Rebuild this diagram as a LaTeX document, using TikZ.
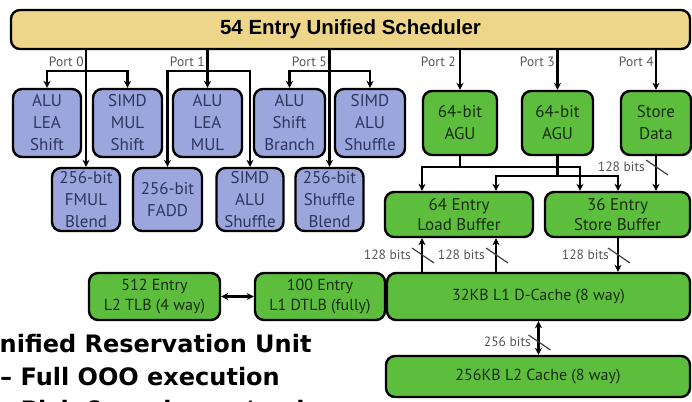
\documentclass[tikz,border=0pt]{standalone}
\usepackage{fontspec}
\setmainfont{PT Sans}
\newfontfamily\titlefont{Liberation Sans}
\newfontfamily\notefont{DejaVu Sans}
\usetikzlibrary{arrows.meta}
\definecolor{schedfill}{HTML}{EDD68A}
\definecolor{bluefill}{HTML}{9BA6DD}
\definecolor{bluetext}{HTML}{2E3560}
\definecolor{greenfill}{HTML}{5DBD3C}
\definecolor{greentext}{HTML}{182C0E}
\definecolor{labelgray}{HTML}{555555}
\tikzset{
  box/.style={draw=black, line width=2.4pt, rounded corners=9pt, inner sep=0pt,
    align=center, font=\fontsize{17}{22}\selectfont},
  unit/.style={box, fill=bluefill, text=bluetext},
  mem/.style={box, fill=greenfill, text=greentext},
  arr/.style={line width=2.4pt, -{Stealth[length=7pt,width=7pt]}},
  biarr/.style={line width=2.4pt, {Stealth[length=7pt,width=7pt]}-{Stealth[length=7pt,width=7pt]}},
  portlabel/.style={font=\fontsize{13.5}{14}\selectfont, text=labelgray, inner sep=0pt, anchor=east},
  bitlabel/.style={font=\fontsize{13.5}{14}\selectfont, text=labelgray, inner sep=0pt, anchor=east},
  slash/.pic={\draw[line width=1.2pt, black!75] (-10,-7) -- (12,8);},
  note/.style={font=\notefont\bfseries\fontsize{24}{28}\selectfont, inner sep=0pt, anchor=base west}
}
\begin{document}
\begin{tikzpicture}[x=1pt,y=-1pt]
\useasboundingbox (0,0) rectangle (692,401);
\clip (0,0) rectangle (692,401);

% scheduler
\node[box, fill=schedfill, minimum width=679pt, minimum height=39pt,
  font=\titlefont\bfseries\fontsize{20.5}{22}\selectfont] (sched) at (350.5,29.5) {54 Entry Unified Scheduler};

% execution units, upper row
\node[unit, minimum width=68pt, minimum height=68pt] (alu0) at (47,123) {ALU\\LEA\\Shift};
\node[unit, minimum width=69pt, minimum height=68pt] (smul) at (127.5,123) {SIMD\\MUL\\Shift};
\node[unit, minimum width=69pt, minimum height=68pt] (alu1) at (207.5,123) {ALU\\LEA\\MUL};
\node[unit, minimum width=71pt, minimum height=68pt] (alu5) at (289.5,123) {ALU\\Shift\\Branch};
\node[unit, minimum width=70pt, minimum height=68pt] (salu5) at (370,123) {SIMD\\ALU\\Shuffle};
% execution units, lower row
\node[unit, minimum width=68pt, minimum height=63pt] (fmul) at (86,199.5) {256-bit\\FMUL\\Blend};
\node[unit, minimum width=69pt, minimum height=63pt] (fadd) at (167.5,199.5) {256-bit\\FADD};
\node[unit, minimum width=67pt, minimum height=63pt] (salu1) at (250,199.5) {SIMD\\ALU\\Shuffle};
\node[unit, minimum width=68pt, minimum height=63pt] (shuf) at (329.5,199.5) {256-bit\\Shuffle\\Blend};

% memory units
\node[mem, minimum width=74pt, minimum height=64pt] (agu2) at (460,123) {64-bit\\AGU};
\node[mem, minimum width=71pt, minimum height=64pt] (agu3) at (557.5,123) {64-bit\\AGU};
\node[mem, minimum width=70pt, minimum height=64pt] (std) at (656,123) {Store\\Data};
\node[mem, minimum width=148pt, minimum height=45pt, font=\fontsize{17}{20.5}\selectfont] (lb) at (459,214.5) {64 Entry\\Load Buffer};
\node[mem, minimum width=145pt, minimum height=45pt, font=\fontsize{17}{20.5}\selectfont] (sb) at (617.5,214.5) {36 Entry\\Store Buffer};
\node[mem, minimum width=131pt, minimum height=47pt, font=\fontsize{16}{20}\selectfont] (tlb2) at (154.5,296.5) {512 Entry\\L2 TLB (4 way)};
\node[mem, minimum width=130pt, minimum height=47pt, font=\fontsize{16}{20}\selectfont] (dtlb) at (320,296.5) {100 Entry\\L1 DTLB (fully)};
\node[mem, minimum width=303pt, minimum height=47pt, font=\fontsize{16}{20}\selectfont] (dc) at (538.5,296.5) {32KB L1 D-Cache (8 way)};
\node[mem, minimum width=304pt, minimum height=41pt, font=\fontsize{16}{20}\selectfont] (l2) at (538,376.5) {256KB L2 Cache (8 way)};

% helper positions for branch levels and buffer ports
\coordinate (br) at (0,71);
\coordinate (h1) at (0,167);
\coordinate (h2) at (0,176);
\coordinate (xl1) at (422,0);
\coordinate (xl2) at (496,0);
\coordinate (xs1) at (580,0);
\coordinate (xs2) at (618,0);
\coordinate (bits) at (0,255);

% port 0
\draw[arr] (sched.south -| fmul) -- (fmul.north);
\draw[arr] (fmul |- br) -| (alu0.north);
\draw[arr] (fmul |- br) -| (smul.north);
\node[portlabel] (p0) at (84,62) {Port 0};
% port 1
\draw[arr] (sched.south -| alu1) -- (alu1.north);
\draw[arr] (alu1 |- br) -| (fadd.north);
\draw[arr] (alu1 |- br) -| (salu1.north);
\node[portlabel] (p1) at (205,62) {Port 1};
% port 5
\draw[arr] (sched.south -| shuf) -- (shuf.north);
\draw[arr] (shuf |- br) -| (alu5.north);
\draw[arr] (shuf |- br) -| (salu5.north);
\node[portlabel] (p5) at (327,62) {Port 5};
% ports 2, 3, 4
\draw[arr] (sched.south -| agu2) -- (agu2.north);
\node[portlabel] (p2) at (456,62) {Port 2};
\draw[arr] (sched.south -| agu3) -- (agu3.north);
\node[portlabel] (p3) at (555,62) {Port 3};
\draw[arr] (sched.south -| std) -- (std.north);
\node[portlabel] (p4) at (654,62) {Port 4};

% address generation to the buffers
\draw[arr] (agu2.south) -- (agu2 |- h1) -| (lb.north -| xl1);
\draw[arr] (agu2 |- h1) -| (sb.north -| xs1);
\draw[arr] (agu3.south) -- (agu3 |- h2) -| (lb.north -| xl2);
\draw[arr] (agu3 |- h2) -| (sb.north -| xs2);
\draw[arr] (std.south) -- (sb.north -| std);
\path (std |- h1) pic{slash};
\node[bitlabel] (b0) at (645,167) {128 bits};

% buffers and L1 data cache
\draw[arr] (dc.north -| xl1) -- (lb.south -| xl1);
\draw[arr] (dc.north -| xl2) -- (lb.south -| xl2);
\draw[arr] (sb.south -| xs2) -- (dc.north -| xs2);
\path (xl1 |- bits) pic{slash};
\path (xl2 |- bits) pic{slash};
\path (xs2 |- bits) pic{slash};
\node[bitlabel] (b1) at (411,255) {128 bits};
\node[bitlabel] (b2) at (485,255) {128 bits};
\node[bitlabel] (b3) at (609,255) {128 bits};

% L1 to L2 and the TLBs
\draw[biarr] (dc.south) -- (l2.north -| dc);
\path (dc |- 0,342) pic{slash};
\node[bitlabel] (b4) at (531,342) {256 bits};
\draw[biarr] (tlb2.east) -- (dtlb.west);

% notes
\node[note] (n1) at (-20,352) {Unified Reservation Unit};
\node[note] (n2) at (0,385) {– Full OOO execution};
\node[note] (n3) at (0,418) {– Pick 6 ready ops/cycle};
\end{tikzpicture}
\end{document}
